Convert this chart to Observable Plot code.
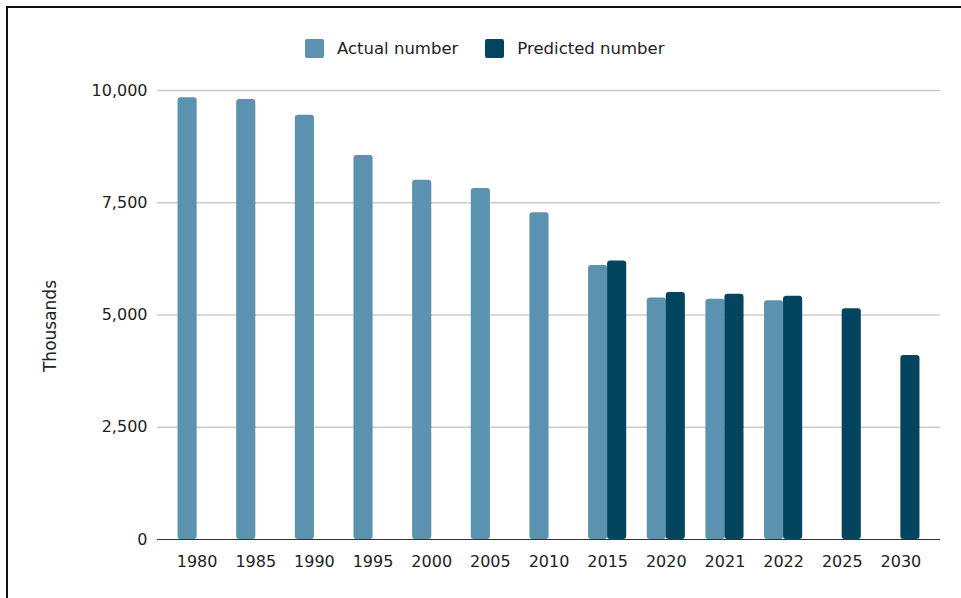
<!DOCTYPE html>
<html>
<head>
<meta charset="utf-8">
<script src="https://cdn.jsdelivr.net/npm/d3@7"></script>
<script src="https://cdn.jsdelivr.net/npm/@observablehq/plot@0.6"></script>
<style>
  html, body { margin: 0; padding: 0; background: #fff; }
  #wrap { position: relative; width: 961px; height: 598px; overflow: hidden; font-family: "DejaVu Sans", sans-serif; color: #222; }
  #frame { position: absolute; left: 6px; top: 6px; right: -4px; bottom: -4px; border-top: 2px solid #111; border-left: 2px solid #111; }
  #chart { position: absolute; left: 0; top: 0; }
  #legend { position: absolute; left: 305px; top: 39px; display: flex; align-items: center; font-size: 16.5px; }
  .sw { width: 19px; height: 19px; border-radius: 2px; margin-right: 13px; }
  .item { display: flex; align-items: center; margin-right: 27px; white-space: nowrap; }
  #ylabel { position: absolute; left: 50px; top: 326px; transform: translate(-50%, -50%) rotate(-90deg); font-size: 17px; white-space: nowrap; }
</style>
</head>
<body>
<div id="wrap">
  <div id="frame"></div>
  <div id="chart"></div>
  <div id="legend"></div>
  <div id="ylabel">Thousands</div>
</div>
<script>
// Years shown on the x axis
const years = ["1980", "1985", "1990", "1995", "2000", "2005", "2010", "2015", "2020", "2021", "2022", "2025", "2030"];
// Values in thousands; null where a series has no bar
const actual = [9840, 9800, 9450, 8550, 8000, 7820, 7280, 6100, 5380, 5350, 5320, null, null];
const predicted = [null, null, null, null, null, null, null, 6200, 5500, 5460, 5420, 5140, 4100];
const seriesNames = ["Actual number", "Predicted number"];
const seriesColors = ["#5a92b0", "#03455f"];
const yTicks = [0, 2500, 5000, 7500, 10000];

const actualRows = years.map((year, i) => ({year, value: actual[i]})).filter(d => d.value != null);
const predictedRows = years.map((year, i) => ({year, value: predicted[i]})).filter(d => d.value != null);

const chart = Plot.plot({
  width: 961,
  height: 598,
  marginTop: 90,
  marginBottom: 59,
  marginLeft: 157,
  marginRight: 21,
  style: {fontFamily: "DejaVu Sans, sans-serif", fontSize: "16px", color: "#222", background: "transparent"},
  x: {domain: years, padding: 0.35, round: false},
  y: {domain: [0, 10000]},
  marks: [
    Plot.ruleY(yTicks.filter(d => d > 0), {stroke: "#cccccc", strokeWidth: 1.3}),
    // each year's band holds the actual bar on the left half and the predicted bar on the right half
    Plot.barY(actualRows, {x: "year", y: "value", fill: seriesColors[0], insetRight: 19, rx: 3}),
    Plot.barY(predictedRows, {x: "year", y: "value", fill: seriesColors[1], insetLeft: 19, rx: 3}),
    Plot.ruleY([0], {stroke: "#333", strokeWidth: 1.2}),
    Plot.axisY(yTicks, {tickSize: 0, tickPadding: 10, tickFormat: d3.format(","), label: null}),
    Plot.axisX({tickSize: 0, tickPadding: 16, label: null})
  ]
});
document.getElementById("chart").appendChild(chart);

const legend = document.getElementById("legend");
seriesNames.forEach((name, i) => {
  const item = document.createElement("div");
  item.className = "item";
  const sw = document.createElement("div");
  sw.className = "sw";
  sw.style.background = seriesColors[i];
  const label = document.createElement("span");
  label.textContent = name;
  item.appendChild(sw);
  item.appendChild(label);
  legend.appendChild(item);
});
</script>
</body>
</html>
